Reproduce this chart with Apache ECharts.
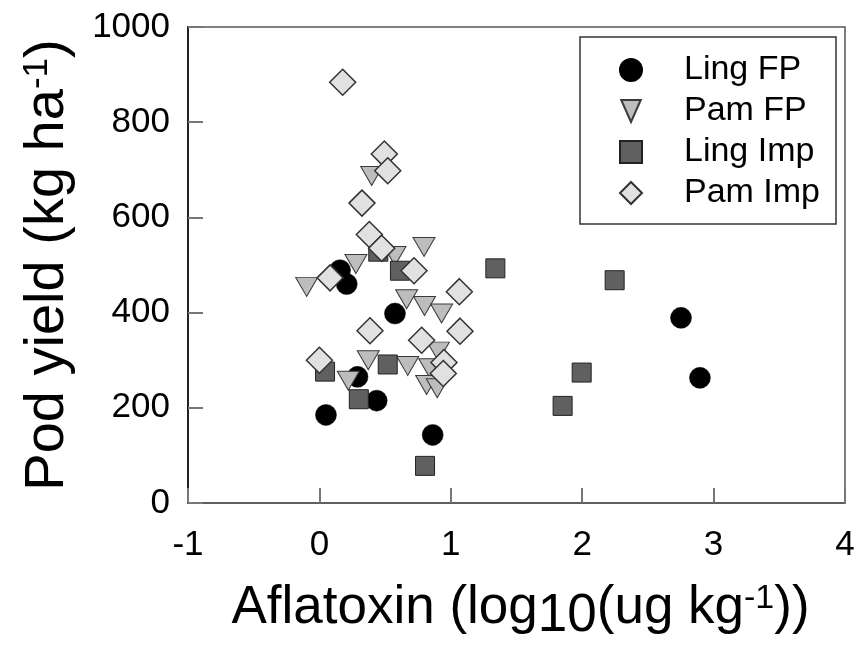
<!DOCTYPE html>
<html>
<head>
<meta charset="utf-8">
<script src="https://cdn.jsdelivr.net/npm/echarts@6/dist/echarts.min.js"></script>
<style>
  html, body { margin: 0; padding: 0; background: #fff; }
  #chart { width: 860px; height: 659px; }
</style>
</head>
<body>
<div id="chart"></div>
<script>
// Pod yield against aflatoxin level, [log10 aflatoxin, yield] per plot
const lingFP = [
  [0.157, 489], [0.208, 460], [0.575, 398], [0.29, 265], [0.436, 215],
  [0.05, 185], [0.862, 143], [2.752, 389], [2.896, 263]
];
const pamFP = [
  [0.796, 538], [0.278, 502], [-0.097, 454], [0.575, 519], [0.664, 428],
  [0.80, 414], [0.93, 398], [0.372, 300], [0.672, 288], [0.22, 257],
  [0.905, 318], [0.84, 283], [0.816, 248], [0.897, 241], [0.398, 687]
];
const lingImp = [
  [0.448, 528], [0.613, 488], [1.339, 493], [0.043, 276], [0.52, 291],
  [0.30, 218], [0.804, 78], [2.247, 468], [1.996, 274], [1.851, 204]
];
const pamImp = [
  [0.177, 884], [0.494, 733], [0.52, 698], [0.324, 630], [0.38, 564],
  [0.474, 535], [0.72, 488], [0.081, 473], [1.065, 444], [0.385, 362],
  [1.07, 361], [0.778, 342], [0.0, 300], [0.948, 295], [0.943, 272]
];
const seriesNames = ['Ling FP', 'Pam FP', 'Ling Imp', 'Pam Imp'];
const xTicks = { min: -1, max: 4, step: 1 };
const yTicks = { min: 0, max: 1000, step: 200 };

const FONT = '"Liberation Sans", Arial, Helvetica, sans-serif';
// downward-pointing triangle used for the Pam FP legend entry
const DOWN_TRIANGLE = 'path://M0,0L16,0L8,18Z';

const chart = echarts.init(document.getElementById('chart'), null, { renderer: 'canvas' });

const option = {
  animation: false,
  backgroundColor: '#fff',
  textStyle: { fontFamily: FONT },
  grid: {
    left: 188, top: 27, right: 15, bottom: 156,
    show: true, borderColor: '#555', borderWidth: 1.5, backgroundColor: 'transparent'
  },
  xAxis: {
    type: 'value',
    min: xTicks.min, max: xTicks.max, interval: xTicks.step,
    splitLine: { show: false },
    axisLine: { show: true, onZero: false, lineStyle: { color: '#555', width: 1.5 } },
    axisTick: { show: true, inside: true, length: 15, lineStyle: { color: '#777', width: 2 } },
    axisLabel: { fontSize: 35, color: '#000', margin: 25, fontFamily: FONT, formatter: v => String(v) },
    name: '{m|Aflatoxin (log}{s|10}{m|(ug kg}{p|-1}{m|))}',
    nameLocation: 'middle',
    nameGap: 79,
    nameTextStyle: {
      fontFamily: FONT, color: '#000',
      padding: [0, 0, 0, 8],
      rich: {
        m: { fontSize: 53, lineHeight: 53, verticalAlign: 'top', fontFamily: FONT, color: '#000' },
        s: { fontSize: 53, lineHeight: 61, verticalAlign: 'bottom', fontFamily: FONT, color: '#000' },
        p: { fontSize: 34, lineHeight: 34, verticalAlign: 'top', fontFamily: FONT, color: '#000' }
      }
    }
  },
  yAxis: {
    type: 'value',
    min: yTicks.min, max: yTicks.max, interval: yTicks.step,
    splitLine: { show: false },
    axisLine: { show: true, onZero: false, lineStyle: { color: '#222', width: 2 } },
    axisTick: { show: true, inside: true, length: 15, lineStyle: { color: '#777', width: 2 } },
    axisLabel: { fontSize: 35, color: '#000', margin: 18, fontFamily: FONT, formatter: v => String(v) },
    name: '{m|Pod yield (kg ha}{p|-1}{m|)}',
    nameLocation: 'middle',
    nameRotate: 90,
    nameGap: 112,
    nameTextStyle: {
      fontFamily: FONT, color: '#000',
      rich: {
        m: { fontSize: 56, lineHeight: 56, verticalAlign: 'bottom', fontFamily: FONT, color: '#000' },
        p: { fontSize: 35, lineHeight: 35, verticalAlign: 'top', fontFamily: FONT, color: '#000' }
      }
    }
  },
  legend: {
    data: [
      { name: seriesNames[0] },
      { name: seriesNames[1], icon: DOWN_TRIANGLE },
      { name: seriesNames[2] },
      { name: seriesNames[3] }
    ],
    orient: 'vertical',
    left: 619, top: 53,
    padding: 0,
    itemWidth: 22, itemHeight: 22, itemGap: 7,
    selectedMode: false,
    formatter: name => '{g|}' + name,
    textStyle: {
      fontSize: 34, color: '#000', fontFamily: FONT,
      rich: { g: { width: 37 } }
    }
  },
  graphic: [{
    type: 'rect',
    shape: { x: 580, y: 37, width: 256, height: 187 },
    style: { fill: 'none', stroke: '#333', lineWidth: 1.5 },
    silent: true,
    z: 1
  }],
  series: [
    {
      name: seriesNames[0], type: 'scatter', data: lingFP,
      symbol: 'circle', symbolSize: 21,
      itemStyle: { color: '#000', borderColor: '#000', borderWidth: 0.5, opacity: 1 }
    },
    {
      name: seriesNames[1], type: 'scatter', data: pamFP,
      symbol: 'triangle', symbolRotate: 180, symbolSize: [22, 19],
      itemStyle: { color: '#bdbdbd', borderColor: '#3a3a3a', borderWidth: 1, opacity: 1 }
    },
    {
      name: seriesNames[2], type: 'scatter', data: lingImp,
      symbol: 'rect', symbolSize: 19,
      itemStyle: { color: '#606060', borderColor: '#222', borderWidth: 1, opacity: 1 }
    },
    {
      name: seriesNames[3], type: 'scatter', data: pamImp,
      symbol: 'diamond', symbolSize: 26,
      itemStyle: { color: '#e1e1e1', borderColor: '#333', borderWidth: 1.5, opacity: 1 }
    }
  ]
};

chart.setOption(option);
</script>
</body>
</html>
